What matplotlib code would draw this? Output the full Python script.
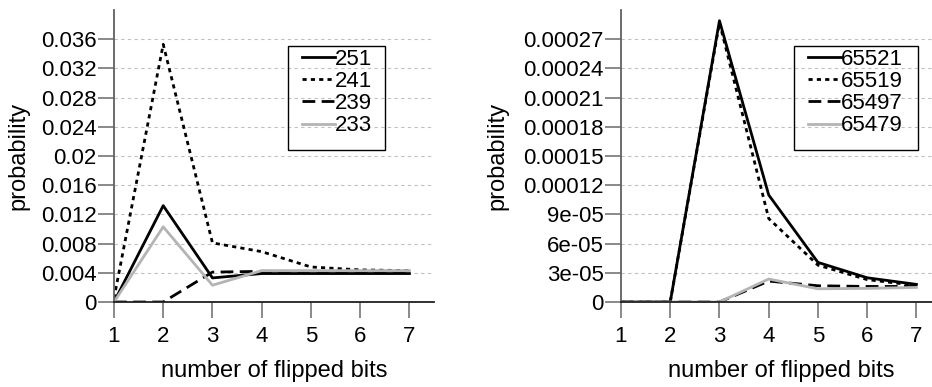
import matplotlib.pyplot as plt
from matplotlib.patches import Rectangle

plt.rcParams['font.family'] = ['Liberation Sans', 'DejaVu Sans']

# number of flipped bits
bits = [1, 2, 3, 4, 5, 6, 7]

# left panel: modulus 251 / 241 / 239 / 233
p251 = [0.0, 0.0132, 0.0033, 0.0039, 0.0039, 0.0039, 0.0039]
p241 = [0.0005, 0.0353, 0.0081, 0.0069, 0.0048, 0.0044, 0.0043]
p239 = [0.0, 0.0, 0.0041, 0.0042, 0.0042, 0.0042, 0.0042]
p233 = [0.0, 0.0103, 0.0023, 0.0043, 0.0043, 0.0043, 0.0043]

# right panel: modulus 65521 / 65519 / 65497 / 65479
p65521 = [0.0, 0.0, 0.000289, 0.000110, 0.0000407, 0.0000249, 0.0000181]
p65519 = [0.0, 0.0, 0.000287, 0.0000858, 0.0000379, 0.0000230, 0.0000170]
p65497 = [0.0, 0.0, 0.0, 0.0000215, 0.0000167, 0.0000160, 0.0000160]
p65479 = [0.0, 0.0, 0.0, 0.0000236, 0.0000136, 0.0000140, 0.0000150]

left_ticks = [0, 0.004, 0.008, 0.012, 0.016, 0.02, 0.024, 0.028, 0.032, 0.036]
left_labels = ['0', '0.004', '0.008', '0.012', '0.016', '0.02', '0.024',
               '0.028', '0.032', '0.036']
right_ticks = [0, 3e-05, 6e-05, 9e-05, 0.00012, 0.00015, 0.00018, 0.00021,
               0.00024, 0.00027]
right_labels = ['0', '3e-05', '6e-05', '9e-05', '0.00012', '0.00015',
                '0.00018', '0.00021', '0.00024', '0.00027']

GRAY = '#b4b4b4'
FS = 16


def draw_panel(ax, series, names, yticks, ylabels, ymax, ylab_x, leg_x, box):
    styles = [dict(color='black', ls='-'),
              dict(color='black', ls=(0, (1.5, 1.5))),
              dict(color='black', ls=(0, (4.6, 2.3))),
              dict(color=GRAY, ls='-')]
    for vals, name, st in zip(series, names, styles):
        ax.plot(bits, vals, lw=2.0, label=name, **st)

    ax.set_xlim(1, 7.5)
    ax.set_ylim(0, ymax)
    ax.set_xticks(bits)
    ax.set_yticks(yticks)
    ax.set_yticklabels(ylabels)
    for y in yticks[1:]:
        ax.axhline(y, color='#c0c0c0', lw=0.8, ls=(0, (3, 3)), zorder=0)

    ax.spines['top'].set_visible(False)
    ax.spines['right'].set_visible(False)
    ax.spines['left'].set_color('#606060')
    ax.spines['left'].set_linewidth(1.3)
    ax.spines['bottom'].set_color('#202020')
    ax.spines['bottom'].set_linewidth(1.3)
    ax.tick_params(axis='both', direction='out', length=11.5, width=1.3,
                   color='#808080', labelsize=FS)
    ax.tick_params(axis='y', pad=1)
    ax.tick_params(axis='x', pad=6)
    ax.set_xlabel('number of flipped bits', fontsize=17, labelpad=9)
    ax.set_ylabel('probability', fontsize=17)
    ax.yaxis.set_label_coords(ylab_x, 0.5)

    ax.legend(loc='center left', bbox_to_anchor=(leg_x, 0.717),
              fontsize=FS, handlelength=1.5, handletextpad=0.0,
              labelspacing=0.05, borderpad=0.0, borderaxespad=0.0,
              frameon=False)
    ax.add_patch(Rectangle((box[0], box[1]), box[2] - box[0], box[3] - box[1],
                           transform=ax.transAxes, fill=False,
                           edgecolor='black', lw=1.0, zorder=5))


fig = plt.figure(figsize=(9.32, 3.87), dpi=100)
ax1 = fig.add_axes([0.1223, 0.2196, 0.3434, 0.7545])
ax2 = fig.add_axes([0.6663, 0.2196, 0.3434, 0.7545])

draw_panel(ax1, [p251, p241, p239, p233], ['251', '241', '239', '233'],
           left_ticks, left_labels, 0.04, -0.265, 0.587,
           (0.544, 0.521, 0.847, 0.877))
draw_panel(ax2, [p65521, p65519, p65497, p65479],
           ['65521', '65519', '65497', '65479'],
           right_ticks, right_labels, 0.0003, -0.352, 0.583,
           (0.541, 0.521, 0.928, 0.877))

fig.savefig('out.png', dpi=100)
